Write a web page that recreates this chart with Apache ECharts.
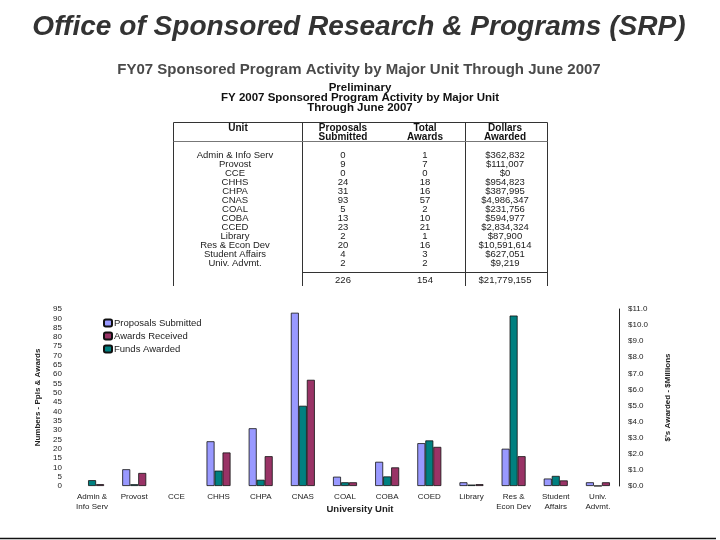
<!DOCTYPE html>
<html><head><meta charset="utf-8">
<script src="https://cdn.jsdelivr.net/npm/echarts@6/dist/echarts.min.js"></script>
<style>html,body{margin:0;padding:0;background:#fff}#c{width:720px;height:540px}</style>
</head><body><div id="c"></div>
<script>
// ---- chart data ----
const categories = ['Admin &\nInfo Serv','Provost','CCE','CHHS','CHPA','CNAS','COAL','COBA','COED','Library','Res &\nEcon Dev','Student\nAffairs','Univ.\nAdvmt.'];
const proposals = [0, 9, 0, 24, 31, 93, 5, 13, 23, 2, 20, 4, 2];
const awards = [1, 7, 0, 18, 16, 57, 2, 10, 21, 1, 16, 3, 2];
const fundsMillions = [0.363, 0.111, 0, 0.955, 0.388, 4.986, 0.232, 0.595, 2.834, 0.088, 10.592, 0.627, 0.009];
const leftTicks = {min: 0, max: 95, interval: 5};
const rightTicks = {min: 0, max: 11, interval: 1};

// ---- table data ----
const tableUnits = ['Admin & Info Serv','Provost','CCE','CHHS','CHPA','CNAS','COAL','COBA','CCED','Library','Res & Econ Dev','Student Affairs','Univ. Advmt.'];
const tableProposals = ['0','9','0','24','31','93','5','13','23','2','20','4','2'];
const tableAwards = ['1','7','0','18','16','57','2','10','21','1','16','3','2'];
const tableDollars = ['$362,832','$111,007','$0','$954,823','$387,995','$4,986,347','$231,756','$594,977','$2,834,324','$87,900','$10,591,614','$627,051','$9,219'];
const tableTotals = ['226','154','$21,779,155'];

const FONT = 'Liberation Sans, Arial, sans-serif';
const chart = echarts.init(document.getElementById('c'));

const g = [];
function txt(x, y, s, size, weight, color, sx, italic) {
  g.push({type:'text', x:x, y:y, scaleX:sx||1, style:{text:s, fontFamily:FONT, fontSize:size, fontWeight:weight||'normal', fontStyle:italic?'italic':'normal', fill:color||'#222', align:'center', verticalAlign:'middle'}});
}
function line(x1,y1,x2,y2,w,c){ g.push({type:'line', shape:{x1:x1,y1:y1,x2:x2,y2:y2}, style:{stroke:c||'#333', lineWidth:w||1}}); }

// page title
txt(359, 28, 'Office of Sponsored Research & Programs (SRP)', 27, 'bold', '#333', 1.04, true);
txt(359, 70, 'FY07 Sponsored Program Activity by Major Unit Through June 2007', 15, 'bold', '#4a4a4a', 1);

// table title
txt(360, 88, 'Preliminary', 11.5, 'bold', '#111');
txt(360, 98, 'FY 2007 Sponsored Program Activity by Major Unit', 11.5, 'bold', '#111');
txt(360, 108, 'Through June 2007', 11.5, 'bold', '#111');
// table frame
const TL = 173.5, TR = 547.5, TT = 122.5, TB = 286, D1 = 302.5, D2 = 465.5;
line(TL, TT, TR, TT, 1, '#333');
line(TL, TT, TL, TB, 1, '#333');
line(TR, TT, TR, TB, 1, '#333');
line(D1, TT, D1, TB, 1, '#333');
line(D2, TT, D2, TB, 1, '#333');
line(TL, 141.5, TR, 141.5, 1, '#777');
line(D1, 272.5, TR, 272.5, 1, '#333');
// headers
txt(238, 128, 'Unit', 10, 'bold', '#111');
txt(343, 128, 'Proposals', 10, 'bold', '#111');
txt(343, 137, 'Submitted', 10, 'bold', '#111');
txt(425, 128, 'Total', 10, 'bold', '#111');
txt(425, 137, 'Awards', 10, 'bold', '#111');
txt(505, 128, 'Dollars', 10, 'bold', '#111');
txt(505, 137, 'Awarded', 10, 'bold', '#111');
for (let i = 0; i < tableUnits.length; i++) {
  const y = 155 + i * 9;
  txt(235, y, tableUnits[i], 9.5, 'normal', '#222');
  txt(343, y, tableProposals[i], 9.5, 'normal', '#222');
  txt(425, y, tableAwards[i], 9.5, 'normal', '#222');
  txt(505, y, tableDollars[i], 9.5, 'normal', '#222');
}
txt(343, 280, tableTotals[0], 9.5, 'normal', '#222');
txt(425, 280, tableTotals[1], 9.5, 'normal', '#222');
txt(505, 280, tableTotals[2], 9.5, 'normal', '#222');
// x-axis title
txt(360, 509, 'University Unit', 9.5, 'bold', '#222');
// bottom rule
line(0, 538.5, 716, 538.5, 1.5, '#111');

const barStyle = c => ({color:c, borderColor:'#111', borderWidth:0.8});
const noZero = arr => arr.map(v => (v === 0 ? '-' : v));

chart.setOption({
  animation:false,
  backgroundColor:'#fff',
  legend:{
    orient:'vertical', left:98, top:313, itemWidth:8, itemHeight:7, itemGap:3,
    data:['Proposals Submitted','Awards Received','Funds Awarded'],
    textStyle:{fontFamily:FONT, fontSize:9.5, color:'#222', padding:[0,0,0,-3]}
  },
  grid:{left:71, right:101, top:309, bottom:54},
  xAxis:{
    type:'category', data:categories,
    axisLine:{show:false}, axisTick:{show:false},
    axisLabel:{fontFamily:FONT, fontSize:8, color:'#222', margin:6, interval:0, lineHeight:10}
  },
  yAxis:[
    {type:'value', min:leftTicks.min, max:leftTicks.max, interval:leftTicks.interval,
     axisLine:{show:false}, axisTick:{show:false}, splitLine:{show:false},
     axisLabel:{fontFamily:FONT, fontSize:8, color:'#222', margin:9},
     name:'Numbers - Ppls & Awards', nameLocation:'middle', nameGap:29,
     nameTextStyle:{fontFamily:FONT, fontSize:8, fontWeight:'bold', color:'#222'}},
    {type:'value', position:'right', min:rightTicks.min, max:rightTicks.max, interval:rightTicks.interval,
     axisLine:{show:true, lineStyle:{color:'#222', width:1}}, axisTick:{show:false}, splitLine:{show:false},
     axisLabel:{fontFamily:FONT, fontSize:8, color:'#222', margin:9, formatter: v => '$' + v.toFixed(1)},
     name:"$'s Awarded - $Millions", nameLocation:'middle', nameGap:45,
     nameTextStyle:{fontFamily:FONT, fontSize:8, fontWeight:'bold', color:'#222'}}
  ],
  series:[
    {name:'Proposals Submitted', type:'bar', yAxisIndex:0, data:noZero(proposals), barWidth:8, barGap:'0%', itemStyle:barStyle('#9999FF')},
    {name:'Funds Awarded', type:'bar', yAxisIndex:1, data:noZero(fundsMillions), barWidth:8, barGap:'0%', itemStyle:barStyle('#008080')},
    {name:'Awards Received', type:'bar', yAxisIndex:0, data:noZero(awards), barWidth:8, barGap:'0%', itemStyle:barStyle('#993366')}
  ],
  graphic:g
});
</script></body></html>
